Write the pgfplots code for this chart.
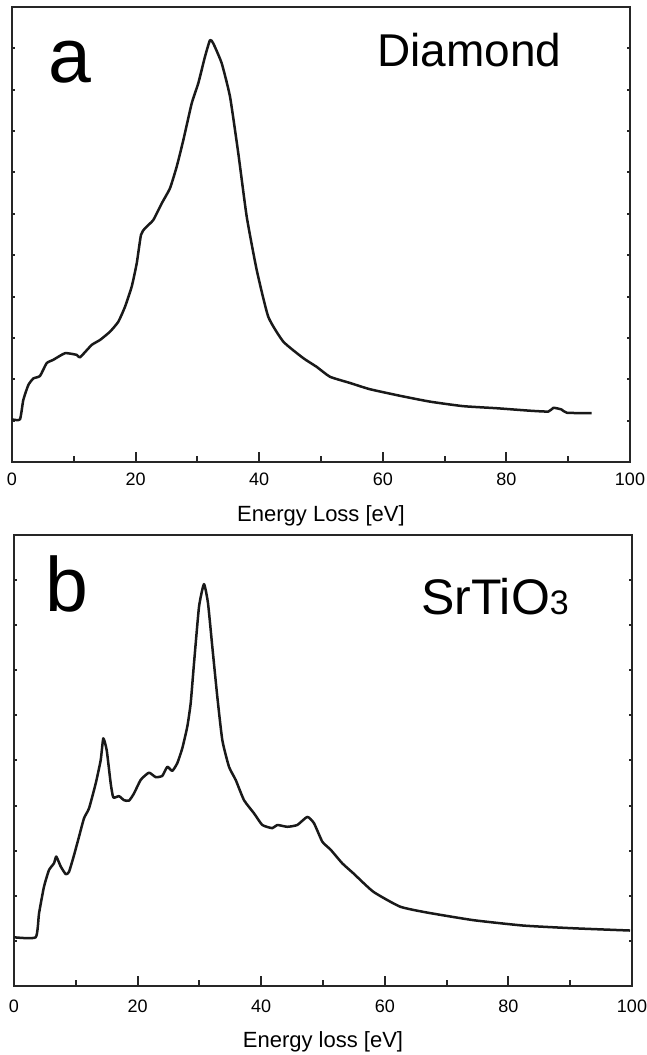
\documentclass[border=0pt]{standalone}
\usepackage{pgfplots}
\pgfplotsset{compat=1.18}
\usepackage{fontspec}
\setmainfont{Liberation Sans}
\begin{document}
\begin{tikzpicture}
\path[use as bounding box] (0,0) rectangle (646pt,1055pt);
\pgfplotsset{
  eels/.style={
    scale only axis, width=618pt, anchor=south west,
    xmin=0, xmax=100,
    xtick={0,20,...,100}, minor xtick={10,30,...,90},
    xtick pos=bottom, tick align=inside,
    major tick length=10pt, minor tick length=6pt,
    every tick/.style={black!85, line width=2pt},
    axis line style={black!85, line width=2.8pt},
    ytick=\empty,
    extra y tick style={major tick length=3pt, ytick pos=both, yticklabels={}},
    /pgf/number format/assume math mode=true,
    xticklabel style={font=\fontsize{18}{20}\selectfont, anchor=base},
    xlabel style={font=\fontsize{22}{26}\selectfont, at={(axis description cs:0.5,0)}, anchor=base},
    clip=false,
  },
}
\begin{axis}[eels, at={(12pt,593pt)}, height=455pt, ymin=0, ymax=11,
  extra y ticks={0,1,...,11},
  xticklabel style={yshift=-24pt},
  xlabel style={yshift=-60pt},
  xlabel={Energy Loss [eV]}]
\addplot[black!90, line width=2.5pt, line join=round, smooth, tension=0.3] coordinates {
(0,1.03) (1.29,1.03) (1.83,1.50) (2.64,1.86) (3.45,2.02) (4.53,2.08) (5.61,2.39) (6.68,2.47) (8.58,2.63) (10.47,2.59) (11.0,2.53) (12.9,2.83) (14.24,2.95) (15.86,3.15) (17.2,3.39) (18.28,3.75) (19.37,4.24) (20.18,4.80) (20.87,5.49) (21.52,5.65) (22.86,5.85) (24.22,6.25) (25.57,6.62) (26.65,7.14) (27.72,7.78) (29.08,8.67) (30.15,9.16) (31.23,9.80) (32.04,10.20) (32.57,10.12) (33.93,9.64) (35.28,8.83) (36.62,7.46) (37.98,5.93) (39.6,4.64) (41.47,3.51) (43.9,2.91) (47.14,2.51) (49.3,2.30) (51.46,2.06) (54.7,1.91) (57.9,1.76) (62.8,1.60) (67.6,1.46) (73.0,1.35) (78.4,1.30) (83.8,1.24) (86.8,1.22) (87.6,1.31) (88.9,1.27) (89.8,1.19) (93.8,1.18)
};
\end{axis}
\begin{axis}[eels, at={(14pt,69pt)}, height=451pt, ymin=0, ymax=10,
  extra y ticks={0,1,...,10},
  xticklabel style={yshift=-27pt},
  xlabel style={yshift=-62pt},
  xlabel={Energy loss [eV]}]
\addplot[black!90, line width=2.5pt, line join=round, smooth, tension=0.3] coordinates {
(0,1.08) (3.51,1.08) (4.05,1.61) (4.85,2.20) (5.66,2.57) (6.47,2.72) (6.84,2.87) (7.56,2.65) (8.37,2.48) (8.90,2.53) (9.71,2.90) (10.52,3.31) (11.33,3.72) (12.14,3.94) (13.22,4.49) (14.03,5.01) (14.45,5.49) (15.0,5.23) (15.65,4.49) (16.07,4.18) (16.99,4.21) (17.8,4.12) (18.61,4.11) (19.42,4.27) (20.5,4.57) (21.84,4.73) (22.93,4.63) (24.0,4.66) (24.81,4.86) (25.61,4.77) (26.42,4.94) (27.23,5.27) (28.04,5.75) (28.59,6.27) (29.13,7.16) (29.94,8.41) (30.74,8.91) (31.39,8.49) (32.09,7.52) (32.9,6.41) (33.71,5.45) (34.79,4.86) (35.87,4.57) (37.22,4.12) (38.83,3.83) (40.18,3.57) (41.8,3.50) (42.6,3.57) (44.22,3.53) (45.84,3.57) (47.46,3.75) (48.54,3.61) (49.89,3.20) (51.25,3.02) (53.12,2.72) (54.9,2.50) (58.14,2.09) (62.46,1.76) (66.78,1.63) (74.32,1.46) (82.41,1.34) (90.5,1.28) (99.68,1.23)
};
\end{axis}
\node[anchor=base west, inner sep=0pt, font=\fontsize{77}{80}\selectfont] at (48pt,972pt) {a};
\node[anchor=base west, inner sep=0pt, font=\fontsize{46}{52}\selectfont] at (377pt,988pt) {Diamond};
\node[anchor=base west, inner sep=0pt, font=\fontsize{77}{80}\selectfont] at (45pt,443pt) {b};
\node[anchor=base west, inner sep=0pt, font=\fontsize{50}{54}\selectfont] at (421pt,440pt) {SrTiO{\fontsize{34}{38}\selectfont 3}};
\end{tikzpicture}
\end{document}
